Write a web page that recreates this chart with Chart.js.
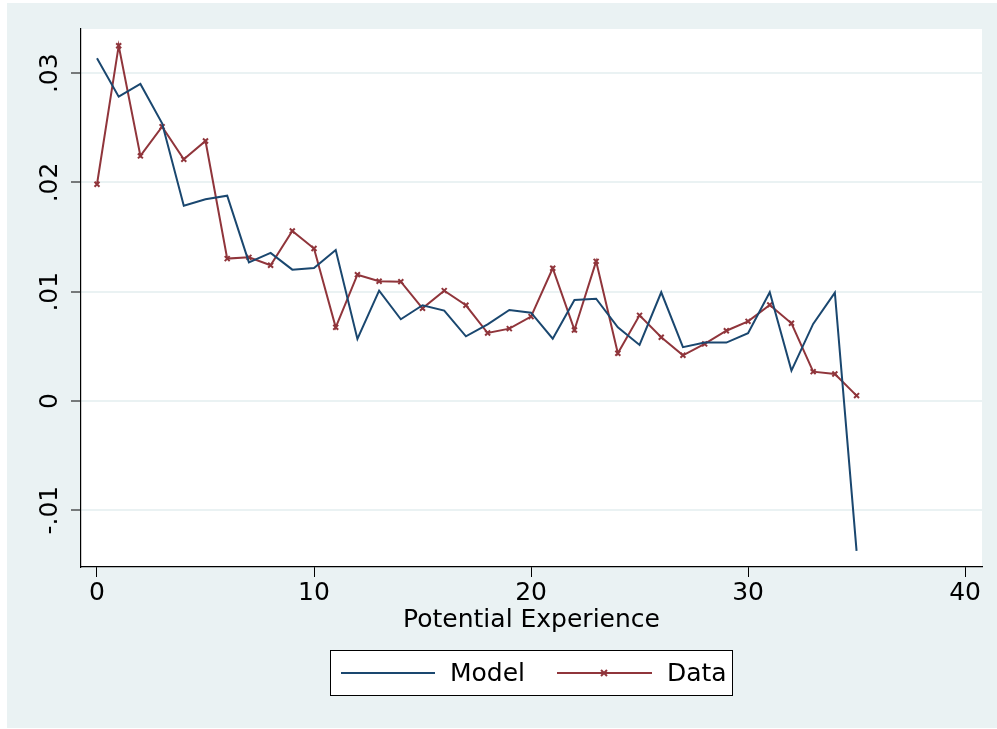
<!DOCTYPE html>
<html>
<head>
<meta charset="utf-8">
<script src="https://cdn.jsdelivr.net/npm/chart.js@4.4.1/dist/chart.umd.min.js"></script>
<style>
  html, body { margin: 0; padding: 0; background: #fff; }
  #wrap { width: 997px; height: 729px; position: relative; }
</style>
</head>
<body>
<div id="wrap"><canvas id="chart"></canvas></div>
<script>
// --- DATA ---
const experience = [0, 1, 2, 3, 4, 5, 6, 7, 8, 9, 10, 11, 12, 13, 14, 15, 16, 17,
                    18, 19, 20, 21, 22, 23, 24, 25, 26, 27, 28, 29, 30, 31, 32, 33, 34, 35];
const modelValues = [0.03137, 0.02785, 0.02902, 0.02542, 0.01788, 0.01846, 0.01879, 0.01269, 0.01355,
                     0.01202, 0.01217, 0.01382, 0.00567, 0.0101, 0.00748, 0.00876, 0.00827, 0.00592,
                     0.00702, 0.00833, 0.00808, 0.0057, 0.00924, 0.00936, 0.00674, 0.00513, 0.00995,
                     0.00492, 0.00534, 0.00534, 0.0062, 0.00995, 0.00278, 0.00705, 0.00992, -0.01373];
const dataValues = [0.01984, 0.03252, 0.02243, 0.02511, 0.02212, 0.0238, 0.01303, 0.01315, 0.01242,
                    0.01556, 0.01396, 0.00674, 0.01156, 0.01096, 0.01092, 0.00848, 0.0101, 0.00876,
                    0.00622, 0.00662, 0.00772, 0.01215, 0.0065, 0.01278, 0.00437, 0.00784, 0.00583,
                    0.00418, 0.00522, 0.00643, 0.00729, 0.00879, 0.00711, 0.00268, 0.00247, 0.00049];
const xTickValues = [0, 10, 20, 30, 40];
const yTickValues = [-0.01, 0, 0.01, 0.02, 0.03];
const yTickLabels = ['-.01', '0', '.01', '.02', '.03'];
const seriesNames = ['Model', 'Data'];

// --- STYLE ---
const FONT = "'DejaVu Sans', sans-serif";
const BLUE = '#1a476f';
const RED = '#90353b';
const BG = '#eaf2f3';

function drawX(ctx, x, y, r) {
    ctx.beginPath();
    ctx.moveTo(x - r, y - r); ctx.lineTo(x + r, y + r);
    ctx.moveTo(x - r, y + r); ctx.lineTo(x + r, y - r);
    ctx.stroke();
}

const stataPlugin = {
    id: 'stata',
    beforeDraw(chart) {
        const { ctx, chartArea: a } = chart;
        ctx.save();
        ctx.fillStyle = '#fff';
        ctx.fillRect(0, 0, chart.width, chart.height);
        ctx.fillStyle = BG;
        ctx.fillRect(7, 3, chart.width - 7, 725);
        ctx.fillStyle = '#fff';
        ctx.fillRect(a.left, a.top, a.right - a.left, a.bottom - a.top);
        ctx.restore();
    },
    afterDraw(chart) {
        const ctx = chart.ctx;
        const yScale = chart.scales.y;
        ctx.save();
        // rotated y tick labels
        ctx.fillStyle = '#000';
        ctx.font = '25px ' + FONT;
        ctx.textAlign = 'center';
        ctx.textBaseline = 'middle';
        yTickValues.forEach((v, i) => {
            const py = yScale.getPixelForValue(v);
            ctx.save();
            ctx.translate(50.5, py);
            ctx.rotate(-Math.PI / 2);
            ctx.fillText(yTickLabels[i], 0, 0);
            ctx.restore();
        });

        // legend box
        ctx.fillStyle = '#fff';
        ctx.fillRect(330.5, 650.5, 402, 45);
        ctx.strokeStyle = '#000';
        ctx.lineWidth = 1;
        ctx.strokeRect(330.5, 650.5, 402, 45);

        const ly = 673;
        ctx.lineWidth = 2;
        ctx.strokeStyle = BLUE;
        ctx.beginPath(); ctx.moveTo(341, ly); ctx.lineTo(435, ly); ctx.stroke();
        ctx.strokeStyle = RED;
        ctx.beginPath(); ctx.moveTo(557, ly); ctx.lineTo(652, ly); ctx.stroke();
        drawX(ctx, 604, ly, 3);

        ctx.fillStyle = '#000';
        ctx.textAlign = 'left';
        ctx.textBaseline = 'middle';
        ctx.fillText(seriesNames[0], 450, ly + 1.5);
        ctx.fillText(seriesNames[1], 667, ly + 1.5);
        ctx.restore();
    }
};

new Chart(document.getElementById('chart'), {
    type: 'line',
    data: {
        datasets: [{
            label: seriesNames[0],
            data: experience.map((x, i) => ({ x: x, y: modelValues[i] })),
            borderColor: BLUE,
            borderWidth: 2,
            pointRadius: 0,
            tension: 0
        }, {
            label: seriesNames[1],
            data: experience.map((x, i) => ({ x: x, y: dataValues[i] })),
            borderColor: RED,
            borderWidth: 2,
            pointStyle: 'crossRot',
            pointRadius: 3.5,
            pointBorderWidth: 2,
            pointBorderColor: RED,
            pointBackgroundColor: RED,
            tension: 0
        }]
    },
    options: {
        responsive: true,
        maintainAspectRatio: false,
        animation: false,
        layout: { padding: { left: 7, top: 29, right: 15, bottom: 94 } },
        plugins: {
            legend: { display: false },
            tooltip: { enabled: false }
        },
        scales: {
            x: {
                type: 'linear',
                min: -0.737,
                max: 40.78,
                afterBuildTicks: scale => { scale.ticks = xTickValues.map(v => ({ value: v })); },
                afterFit: scale => { scale.height = 68; },
                ticks: {
                    color: '#000',
                    font: { family: FONT, size: 25 },
                    padding: 1,
                    maxRotation: 0,
                    autoSkip: false,
                    callback: v => String(v)
                },
                grid: { drawOnChartArea: false, tickLength: 10, tickColor: '#000', tickWidth: 1 },
                border: { display: true, color: '#000', width: 1.2 },
                title: {
                    display: true,
                    text: 'Potential Experience',
                    color: '#000',
                    font: { family: FONT, size: 25 },
                    padding: { top: 0, bottom: 0 }
                }
            },
            y: {
                type: 'linear',
                min: -0.0152,
                max: 0.03405,
                afterBuildTicks: scale => { scale.ticks = yTickValues.map(v => ({ value: v })); },
                afterFit: scale => { scale.width = 74; },
                ticks: { display: false },
                grid: { color: BG, lineWidth: 2, tickLength: 10, tickColor: '#000', tickWidth: 1 },
                border: { display: true, color: '#000', width: 1.2 }
            }
        }
    },
    plugins: [stataPlugin]
});
</script>
</body>
</html>
